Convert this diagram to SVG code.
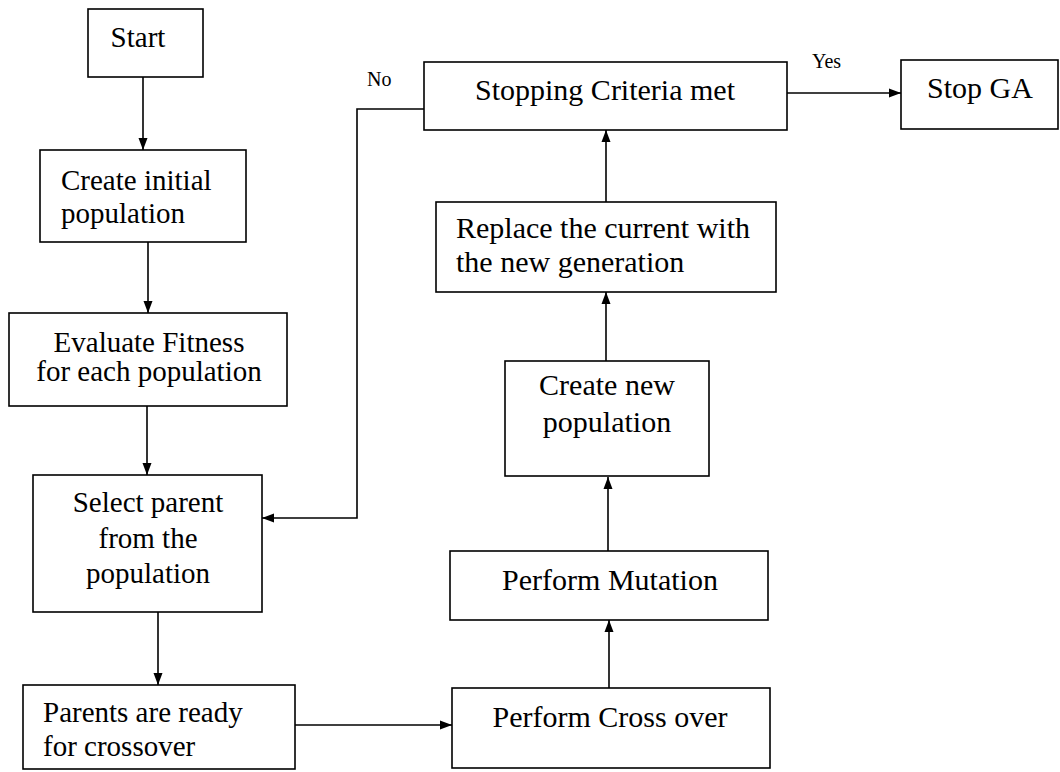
<svg xmlns="http://www.w3.org/2000/svg" width="1060" height="772" viewBox="0 0 1060 772">
<defs>
<marker id="ah" viewBox="0 0 12 10" refX="12" refY="5" markerWidth="12" markerHeight="10" markerUnits="userSpaceOnUse" orient="auto">
<path d="M0,0.5 L12,5 L0,9.5 Z" fill="#000"/>
</marker>
<style>
.box{fill:#fff;stroke:#000;stroke-width:1.6}
.t{font-family:"Liberation Serif","Times New Roman",serif;font-size:29px;fill:#000}
.b{font-size:30px}
.c{text-anchor:middle}
.lbl{font-family:"Liberation Serif","Times New Roman",serif;font-size:20px;fill:#000}
.con{fill:none;stroke:#000;stroke-width:1.6}
</style>
</defs>
<rect width="1060" height="772" fill="#fff"/>
<g id="connectors">
<line class="con" x1="143" y1="77" x2="143" y2="150" marker-end="url(#ah)"/>
<line class="con" x1="148" y1="242" x2="148" y2="313" marker-end="url(#ah)"/>
<line class="con" x1="147" y1="406" x2="147" y2="475" marker-end="url(#ah)"/>
<line class="con" x1="158" y1="612" x2="158" y2="685" marker-end="url(#ah)"/>
<line class="con" x1="295" y1="725" x2="452" y2="725" marker-end="url(#ah)"/>
<line class="con" x1="609" y1="688" x2="609" y2="620" marker-end="url(#ah)"/>
<line class="con" x1="608" y1="551" x2="608" y2="477" marker-end="url(#ah)"/>
<line class="con" x1="606" y1="361" x2="606" y2="292" marker-end="url(#ah)"/>
<line class="con" x1="606" y1="202" x2="606" y2="130" marker-end="url(#ah)"/>
<line class="con" x1="787" y1="93" x2="901" y2="93" marker-end="url(#ah)"/>
<polyline class="con" points="424,109 357,109 357,518 262,518" marker-end="url(#ah)"/>
<text class="lbl" x="812" y="68">Yes</text>
<text class="lbl" x="367" y="86">No</text>
</g>
<g id="start">
<rect class="box" x="88" y="9" width="115" height="68"/>
<text class="t c" x="138" y="47">Start</text>
</g>
<g id="create-initial">
<rect class="box" x="40" y="150" width="206" height="92"/>
<text class="t" x="61" y="190">Create initial</text>
<text class="t" x="61" y="223">population</text>
</g>
<g id="evaluate">
<rect class="box" x="9" y="313" width="278" height="93"/>
<text class="t c" x="149" y="352">Evaluate Fitness</text>
<text class="t c" x="149" y="381">for each population</text>
</g>
<g id="select">
<rect class="box" x="33" y="475" width="229" height="137"/>
<text class="t c" x="148" y="512">Select parent</text>
<text class="t c" x="148" y="548">from the</text>
<text class="t c" x="148" y="583">population</text>
</g>
<g id="parents">
<rect class="box" x="23" y="685" width="272" height="84"/>
<text class="t" x="43" y="722">Parents are ready</text>
<text class="t" x="43" y="756">for crossover</text>
</g>
<g id="crossover">
<rect class="box" x="452" y="688" width="318" height="80"/>
<text class="t b c" x="610" y="727">Perform Cross over</text>
</g>
<g id="mutation">
<rect class="box" x="450" y="551" width="318" height="69"/>
<text class="t b c" x="610" y="590">Perform Mutation</text>
</g>
<g id="create-new">
<rect class="box" x="505" y="361" width="204" height="115"/>
<text class="t b c" x="607" y="395">Create new</text>
<text class="t b c" x="607" y="432">population</text>
</g>
<g id="replace">
<rect class="box" x="436" y="202" width="340" height="90"/>
<text class="t b" x="456" y="238">Replace the current with</text>
<text class="t b" x="456" y="272">the new generation</text>
</g>
<g id="stopping">
<rect class="box" x="424" y="62" width="363" height="68"/>
<text class="t b c" x="605" y="100">Stopping Criteria met</text>
</g>
<g id="stop-ga">
<rect class="box" x="901" y="60" width="157" height="69"/>
<text class="t b c" x="980" y="98">Stop GA</text>
</g>
</svg>
